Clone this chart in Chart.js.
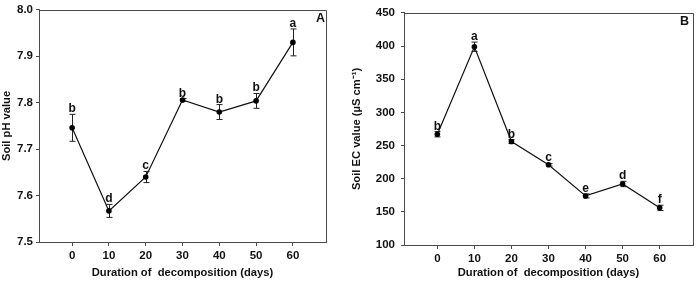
<!DOCTYPE html>
<html>
<head>
<meta charset="utf-8">
<script src="https://cdn.jsdelivr.net/npm/chart.js@4.4.1/dist/chart.umd.min.js"></script>
<style>
  html, body { margin: 0; padding: 0; background: #fff; }
  #wrap { position: relative; width: 697px; height: 282px; overflow: hidden; }
  .panel { position: absolute; top: 0; height: 282px; }
</style>
</head>
<body>
<div id="wrap">
  <div class="panel" style="left:0;width:350px"><canvas id="chartA" width="350" height="282"></canvas></div>
  <div class="panel" style="left:350px;width:347px"><canvas id="chartB" width="347" height="282"></canvas></div>
</div>
<script>
// Soil pH (A) and soil EC (B) over decomposition time, mean +/- error
var DAYS       = [0, 10, 20, 30, 40, 50, 60];
var X_TICKS    = [0, 10, 20, 30, 40, 50, 60];

var PH_MEAN    = [7.746, 7.567, 7.640, 7.806, 7.780, 7.804, 7.930];
var PH_ERR     = [0.029, 0.014, 0.012, 0.003, 0.016, 0.016, 0.029];
var PH_LETTERS = ["b", "d", "c", "b", "b", "b", "a"];

var EC_MEAN    = [267, 399, 256, 221, 174, 192, 156];
var EC_ERR     = [4, 7, 3, 2, 3, 4, 4];
var EC_LETTERS = ["b", "a", "b", "c", "e", "d", "f"];

var AXIS_COLOR = "#4a4a4a";
var TEXT_COLOR = "#111";
var FONT_FAMILY = "'Liberation Sans', Arial, sans-serif";

// error bars, significance letters, panel tag and box frame
var errorBarPlugin = {
  id: "errorBars",
  beforeDatasetsDraw: function(chart, args, opts) {
    var ctx = chart.ctx, xs = chart.scales.x, ys = chart.scales.y;
    var data = chart.data.datasets[0].data;
    ctx.save();
    ctx.strokeStyle = "#222";
    ctx.lineWidth = 1;
    data.forEach(function(pt, i) {
      var e = opts.err[i];
      var px = Math.round(xs.getPixelForValue(pt.x)) + 0.5;
      var top = ys.getPixelForValue(pt.y + e);
      var bot = ys.getPixelForValue(pt.y - e);
      ctx.beginPath();
      ctx.moveTo(px, top); ctx.lineTo(px, bot);
      ctx.moveTo(px - 3, top); ctx.lineTo(px + 3, top);
      ctx.moveTo(px - 3, bot); ctx.lineTo(px + 3, bot);
      ctx.stroke();
    });
    ctx.restore();
  },
  afterDatasetsDraw: function(chart, args, opts) {
    var ctx = chart.ctx, xs = chart.scales.x, ys = chart.scales.y;
    var data = chart.data.datasets[0].data;
    var area = chart.chartArea;
    ctx.save();
    ctx.fillStyle = TEXT_COLOR;
    ctx.font = "bold 12px " + FONT_FAMILY;
    ctx.textAlign = "center";
    ctx.textBaseline = "alphabetic";
    data.forEach(function(pt, i) {
      var px = xs.getPixelForValue(pt.x);
      var top = ys.getPixelForValue(pt.y + opts.err[i]);
      ctx.fillText(opts.letters[i], px, top - 2);
    });
    ctx.font = "bold 12.5px " + FONT_FAMILY;
    ctx.textAlign = "right";
    ctx.textBaseline = "middle";
    ctx.fillText(opts.tag, area.right - opts.tagInset, area.top + 9);
    // top + right frame lines
    ctx.strokeStyle = AXIS_COLOR;
    ctx.lineWidth = 1;
    ctx.beginPath();
    ctx.moveTo(area.left, Math.round(area.top) + 0.5);
    ctx.lineTo(Math.round(area.right) + 0.5, Math.round(area.top) + 0.5);
    ctx.lineTo(Math.round(area.right) + 0.5, area.bottom);
    ctx.stroke();
    ctx.restore();
  }
};

function toPoints(ys) {
  return DAYS.map(function(d, i) { return { x: d, y: ys[i] }; });
}

function makeChart(canvasId, def) {
  var canvas = document.getElementById(canvasId);
  return new Chart(canvas, {
    type: "line",
    data: {
      datasets: [{
        data: toPoints(def.mean),
        borderColor: "#111",
        borderWidth: 1.2,
        backgroundColor: "#000",
        pointBackgroundColor: "#000",
        pointBorderColor: "#000",
        pointRadius: 2.8,
        pointBorderWidth: 0,
        tension: 0,
        fill: false
      }]
    },
    options: {
      responsive: false,
      animation: false,
      devicePixelRatio: 1,
      layout: { padding: def.padding },
      plugins: {
        legend: { display: false },
        tooltip: { enabled: false },
        errorBars: { err: def.err, letters: def.letters, tag: def.tag, tagInset: def.tagInset }
      },
      scales: {
        x: {
          type: "linear",
          min: -9,
          max: 69,
          afterBuildTicks: function(scale) {
            scale.ticks = X_TICKS.map(function(v) { return { value: v }; });
          },
          afterFit: function(scale) { scale.height = def.xHeight; },
          grid: { drawOnChartArea: false, drawTicks: true, tickLength: 4, color: AXIS_COLOR },
          border: { color: AXIS_COLOR, width: 1 },
          ticks: {
            color: TEXT_COLOR, padding: 3, maxRotation: 0,
            font: { family: FONT_FAMILY, size: 11.5, weight: "bold" }
          },
          title: {
            display: true,
            text: "Duration of  decomposition (days)",
            color: TEXT_COLOR,
            padding: { top: 0, bottom: 2 },
            font: { family: FONT_FAMILY, size: 11.2, weight: "bold" }
          }
        },
        y: {
          min: def.yMin,
          max: def.yMax,
          afterFit: function(scale) { scale.width = def.yWidth; },
          grid: { drawOnChartArea: false, drawTicks: true, tickLength: 3, color: AXIS_COLOR },
          border: { color: AXIS_COLOR, width: 1 },
          ticks: {
            stepSize: def.yStep,
            color: TEXT_COLOR,
            padding: def.yTickPad,
            font: { family: FONT_FAMILY, size: 11.5, weight: "bold" },
            callback: def.yFormat
          },
          title: {
            display: true,
            text: def.yTitle,
            color: TEXT_COLOR,
            padding: { top: 0, bottom: 0 },
            font: { family: FONT_FAMILY, size: 11.2, weight: "bold" }
          }
        }
      }
    },
    plugins: [errorBarPlugin]
  });
}

makeChart("chartA", {
  mean: PH_MEAN, err: PH_ERR, letters: PH_LETTERS, tag: "A", tagInset: 1,
  yMin: 7.5, yMax: 8.0, yStep: 0.1,
  yFormat: function(v) { return Number(v).toFixed(1); },
  yTitle: "Soil pH value",
  padding: { top: 7, right: 24, left: 0, bottom: 0 },
  yWidth: 39, xHeight: 40, yTickPad: 3
});

makeChart("chartB", {
  mean: EC_MEAN, err: EC_ERR, letters: EC_LETTERS, tag: "B", tagInset: 4,
  yMin: 100, yMax: 450, yStep: 50,
  yFormat: function(v) { return String(v); },
  yTitle: "Soil EC value (\u00b5S cm\u207b\u00b9)",
  padding: { top: 10, right: 4, left: 0, bottom: 0 },
  yWidth: 54, xHeight: 37, yTickPad: 6
});
</script>
</body>
</html>
